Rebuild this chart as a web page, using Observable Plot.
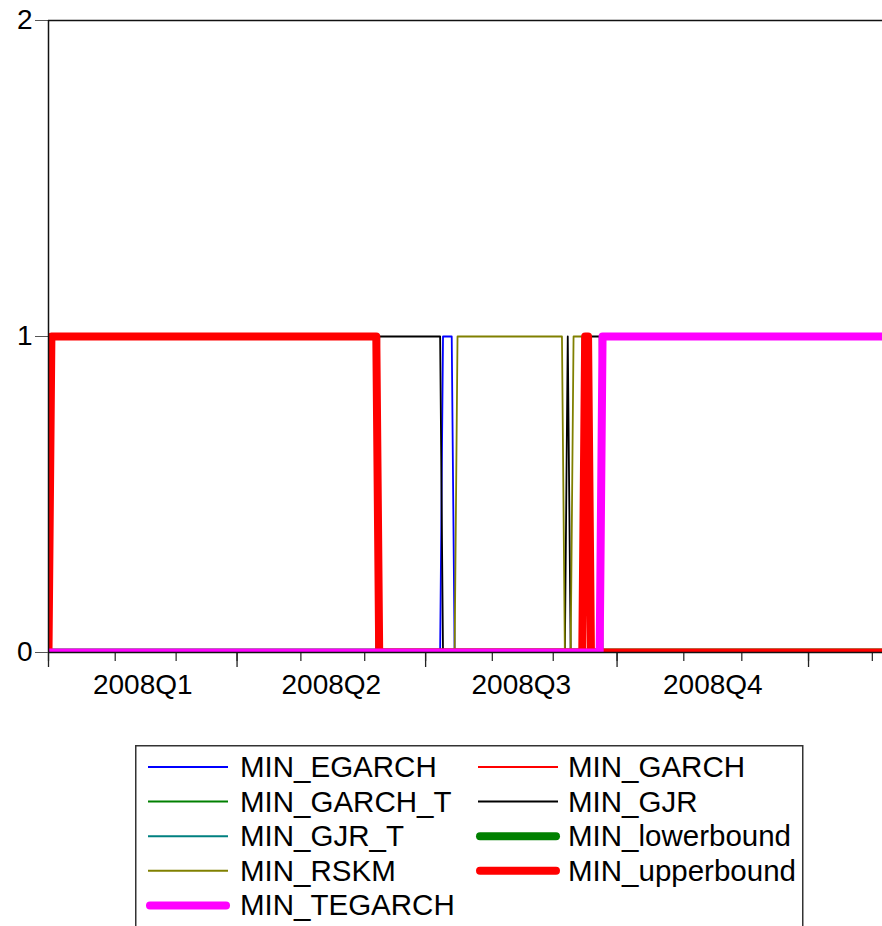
<!DOCTYPE html>
<html><head><meta charset="utf-8">
<script src="https://cdn.jsdelivr.net/npm/d3@7"></script>
<script src="https://cdn.jsdelivr.net/npm/@observablehq/plot@0.6"></script>
<style>
body{margin:0;background:#fff;}
#wrap{position:relative;width:882px;height:926px;overflow:hidden;font-family:"Liberation Sans",Arial,sans-serif;}
#legend{position:absolute;left:135px;top:745px;}
</style></head><body><div id="wrap"><div id="chart"></div><div id="legend"></div></div>
<script>
// ---- data: 0/1 indicator series, as polyline vertices [date, value] (5-day weekly data) ----
const MIN_EGARCH = [["2008-01-01",0],["2008-07-08",0],["2008-07-09",1],["2008-07-14",1],["2008-07-15",0],["2009-02-06",0]];
const MIN_GARCH = [["2008-01-01",0],["2009-02-06",0]];
const MIN_GARCH_T = [["2008-01-01",0],["2009-02-06",0]];
const MIN_GJR = [["2008-01-01",0],["2008-06-06",0],["2008-06-09",1],["2008-07-08",1],["2008-07-09",0],
  ["2008-09-05",0],["2008-09-08",1],["2008-09-09",0],["2008-09-17",0],["2008-09-18",1],["2008-09-23",1],["2008-09-24",0],["2009-02-06",0]];
const MIN_GJR_T = [["2008-01-01",0],["2009-02-06",0]];
const MIN_lowerbound = [["2008-01-01",0],["2009-02-06",0]];
const MIN_RSKM = [["2008-01-01",0],["2008-07-15",0],["2008-07-16",1],["2008-09-04",1],["2008-09-05",0],
  ["2008-09-09",0],["2008-09-10",1],["2008-09-15",1],["2008-09-16",0],["2009-02-06",0]];
const MIN_upperbound = [["2008-01-01",0],["2008-01-02",1],["2008-06-06",1],["2008-06-09",0],["2008-09-15",0],
  ["2008-09-16",1],["2008-09-17",1],["2008-09-18",0],["2009-02-06",0]];
const MIN_TEGARCH = [["2008-01-01",0],["2008-09-23",0],["2008-09-24",1],["2009-02-06",1]];

const seriesNames = ["MIN_EGARCH","MIN_GARCH","MIN_GARCH_T","MIN_GJR","MIN_GJR_T","MIN_lowerbound","MIN_RSKM","MIN_upperbound","MIN_TEGARCH"];
const seriesData = [MIN_EGARCH,MIN_GARCH,MIN_GARCH_T,MIN_GJR,MIN_GJR_T,MIN_lowerbound,MIN_RSKM,MIN_upperbound,MIN_TEGARCH];
const seriesColors = ["#0000ff","#ff0000","#008000","#000000","#008080","#008000","#808000","#ff0000","#ff00ff"];
const seriesWidths = [1.8,1.8,1.8,1.8,1.8,8,1.8,8,8];

const monthTicks = ["2008-01-01","2008-02-01","2008-03-01","2008-04-01","2008-05-01","2008-06-01","2008-07-01",
  "2008-08-01","2008-09-01","2008-10-01","2008-11-01","2008-12-01","2009-01-01","2009-02-01"];
const quarterTicks = ["2008-01-01","2008-04-01","2008-07-01","2008-10-01","2009-01-01"];
const quarterLabels = ["2008Q1","2008Q2","2008Q3","2008Q4"];
const yTicks = [0,1,2];

// observation index on a 5-day (weekday) calendar
const t0 = Date.UTC(2008,0,1);
function obsIndex(s){
  const end = new Date(s+"T00:00:00Z").getTime();
  let n = 0;
  for (let t = t0; t < end; t += 864e5){ const w = new Date(t).getUTCDay(); if (w !== 0 && w !== 6) n++; }
  return n;
}
const monthIdx = monthTicks.map(obsIndex);
const quarterIdx = quarterTicks.map(obsIndex);
const quarterMid = quarterLabels.map((_, i) => (quarterIdx[i] + quarterIdx[i+1]) / 2);
const labelOf = new Map(quarterMid.map((m, i) => [m, quarterLabels[i]]));

const rows = seriesNames.map((name, i) => seriesData[i].map(([d, v]) => ({series: name, idx: obsIndex(d), value: v})));

const marks = [];
rows.forEach((r, i) => {
  marks.push(Plot.line(r, {x: "idx", y: "value", stroke: seriesColors[i], strokeWidth: seriesWidths[i],
    strokeLinejoin: "round", strokeLinecap: seriesWidths[i] > 2 ? "round" : "butt", clip: true}));
});

const chart = Plot.plot({
  width: 882, height: 740,
  marginLeft: 48, marginRight: 0, marginTop: 20, marginBottom: 88,
  style: {fontFamily: "'Liberation Sans', Arial, sans-serif", fontSize: "28px", color: "#000", background: "#fff"},
  x: {type: "linear", domain: [0, 287.5], label: null},
  y: {domain: [0, 2], label: null},
  marks: [
    Plot.axisX({ticks: monthIdx.filter(d => d <= 287.5), tickSize: 9, tickFormat: () => "", stroke: "#333", strokeWidth: 1.3}),
    Plot.axisX({ticks: quarterIdx, tickSize: 15, tickFormat: () => "", stroke: "#222", strokeWidth: 1.3}),
    Plot.axisX({ticks: quarterMid, tickSize: 0, tickPadding: 22, tickFormat: d => labelOf.get(d), fill: "#000", fontSize: 28}),
    Plot.axisY({ticks: yTicks, tickSize: 13, tickPadding: 3, stroke: "#555", fill: "#000", fontSize: 28, tickFormat: d => String(d)}),
    ...marks,
    Plot.ruleY([0, 2], {stroke: "#111", strokeWidth: 1.5}),
    Plot.ruleX([0], {stroke: "#111", strokeWidth: 1.5})
  ]
});
document.getElementById("chart").appendChild(chart);

// ---- legend ----
const legendOrder = [[0,1],[2,3],[4,5],[6,7],[8]];
const lg = d3.select("#legend").append("svg").attr("width", 669).attr("height", 200);
lg.append("rect").attr("x", 0.75).attr("y", 0.75).attr("width", 667).attr("height", 300)
  .attr("fill", "#fff").attr("stroke", "#333").attr("stroke-width", 1.5);
legendOrder.forEach((row, r) => {
  const cy = 22 + 34.6 * r;
  row.forEach((si, c) => {
    const x0 = c === 0 ? 13 : 343;
    const thick = seriesWidths[si] > 2;
    lg.append("line").attr("x1", thick ? x0 + 2 : x0).attr("x2", thick ? x0 + 78 : x0 + 80)
      .attr("y1", cy).attr("y2", cy).attr("stroke", seriesColors[si])
      .attr("stroke-width", thick ? 8 : 2).attr("stroke-linecap", thick ? "round" : "butt");
    lg.append("text").attr("x", c === 0 ? 105 : 433).attr("y", cy + 10)
      .attr("font-family", "'Liberation Sans', Arial, sans-serif").attr("font-size", 29.5).attr("fill", "#000")
      .text(seriesNames[si]);
  });
});
</script></body></html>
